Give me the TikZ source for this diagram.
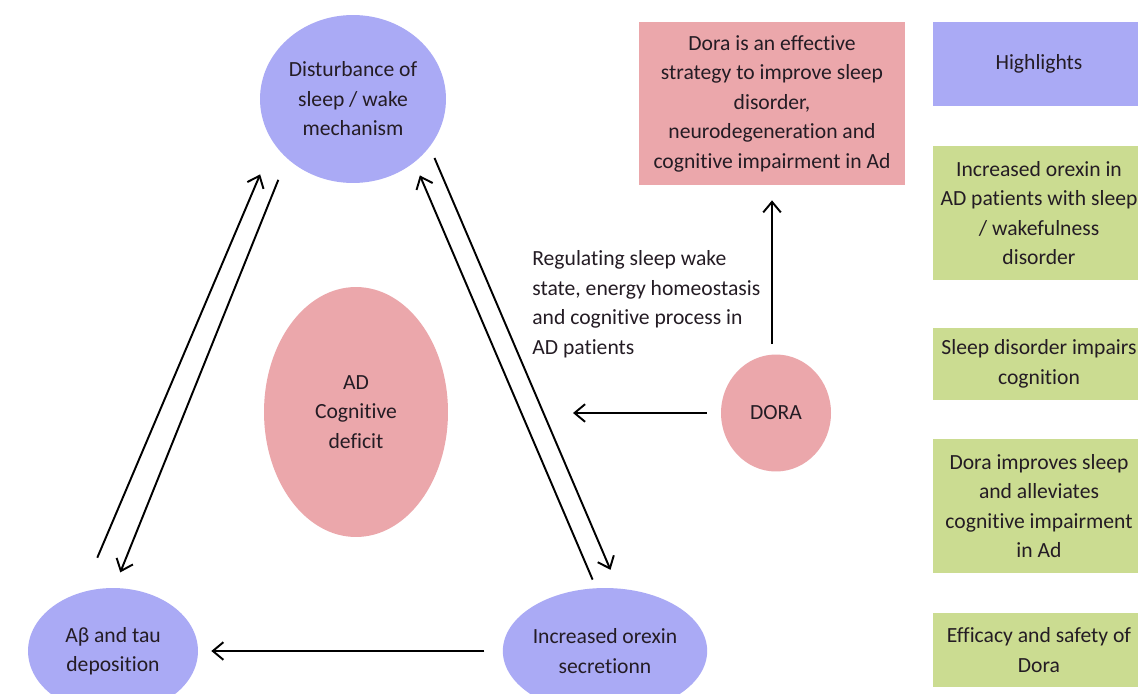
\documentclass[tikz,border=0pt]{standalone}
\usepackage{fontspec}
\setmainfont{Carlito}[Ligatures=NoCommon]
\usetikzlibrary{shapes.geometric,arrows.meta}
\definecolor{lavender}{RGB}{170,170,245}
\definecolor{blush}{RGB}{235,167,171}
\definecolor{lime}{RGB}{203,220,145}
\definecolor{ink}{RGB}{36,28,36}
\tikzset{
	bubble/.style={ellipse, inner sep=0pt, align=center, text=ink},
	panel/.style={rectangle, inner sep=0pt, align=center, text=ink},
	arr/.style={-{Straight Barb[length=6pt,width=10pt]}, line width=1.1pt}
}
\begin{document}
\begin{tikzpicture}[x=0.02cm, y=-0.02cm, font=\fontsize{12.3}{16.8}\selectfont]
\clip (0,0) rectangle (1138,693);
\fill[white] (0,0) rectangle (1138,693);
% the cycle
\node[bubble, fill=lavender, minimum width=3.72cm, minimum height=3.36cm]
	(sleep) at (353,99) {Disturbance of\\sleep / wake\\mechanism};
\node[bubble, fill=blush, minimum width=3.68cm, minimum height=5cm]
	(deficit) at (356,412) {AD\\Cognitive\\deficit};
\node[bubble, fill=lavender, minimum width=3.4cm, minimum height=2.52cm]
	(abeta) at (113,651) {Aβ and tau\\deposition};
\node[bubble, fill=lavender, minimum width=3.4cm, minimum height=2.52cm]
	(orexin) at (605,651) {Increased orexin\\secretionn};
\draw[arr, shorten <=0.74cm, shorten >=0.68cm] (abeta.117) -- (sleep.209);
\draw[arr, shorten <=0.46cm, shorten >=0.33cm] (sleep.222) -- (abeta.89);
\draw[arr, shorten <=0.18cm, shorten >=0.28cm] (orexin.98) -- (sleep.314);
\draw[arr, shorten <=0.24cm, shorten >=0.40cm] (sleep.328) -- (orexin.78);
\draw[arr, shorten <=0.36cm, shorten >=0.26cm] (orexin) -- (abeta);
% drug
\node[bubble, fill=blush, minimum width=2.2cm, minimum height=2.34cm]
	(dora) at (776,413) {DORA};
\node[panel, fill=blush, minimum width=5.32cm, minimum height=3.26cm]
	(strategy) at (772,103.5) {Dora is an effective\\strategy to improve sleep\\disorder,\\neurodegeneration and\\cognitive impairment in Ad};
\node[align=left, anchor=west, inner sep=0pt, text=ink]
	(regnote) at (532,304) {Regulating sleep wake\\state, energy homeostasis\\and cognitive process in\\AD patients};
\coordinate (dorahit) at (573,413);
\draw[arr, shorten <=0.28cm] (dora) -- (dorahit);
\draw[arr, shorten <=0.2cm, shorten >=0.3cm] (dora.north -| strategy.south) -- (strategy.south);
% highlights column
\node[panel, fill=lavender, minimum width=4.24cm, minimum height=1.68cm]
	(highlights) at (1039,64) {Highlights};
\node[panel, fill=lime, minimum width=4.24cm, minimum height=2.68cm]
	(hlorexin) at (1039,213) {Increased orexin in\\AD patients with sleep\\/ wakefulness\\disorder};
\node[panel, fill=lime, minimum width=4.24cm, minimum height=1.44cm]
	(hlcognition) at (1039,364) {Sleep disorder impairs\\cognition};
\node[panel, fill=lime, minimum width=4.24cm, minimum height=2.7cm]
	(hlimprove) at (1039,506) {Dora improves sleep\\and alleviates\\cognitive impairment\\in Ad};
\node[panel, fill=lime, minimum width=4.24cm, minimum height=1.48cm]
	(hlsafety) at (1039,650) {Efficacy and safety of\\Dora};
\end{tikzpicture}
\end{document}
